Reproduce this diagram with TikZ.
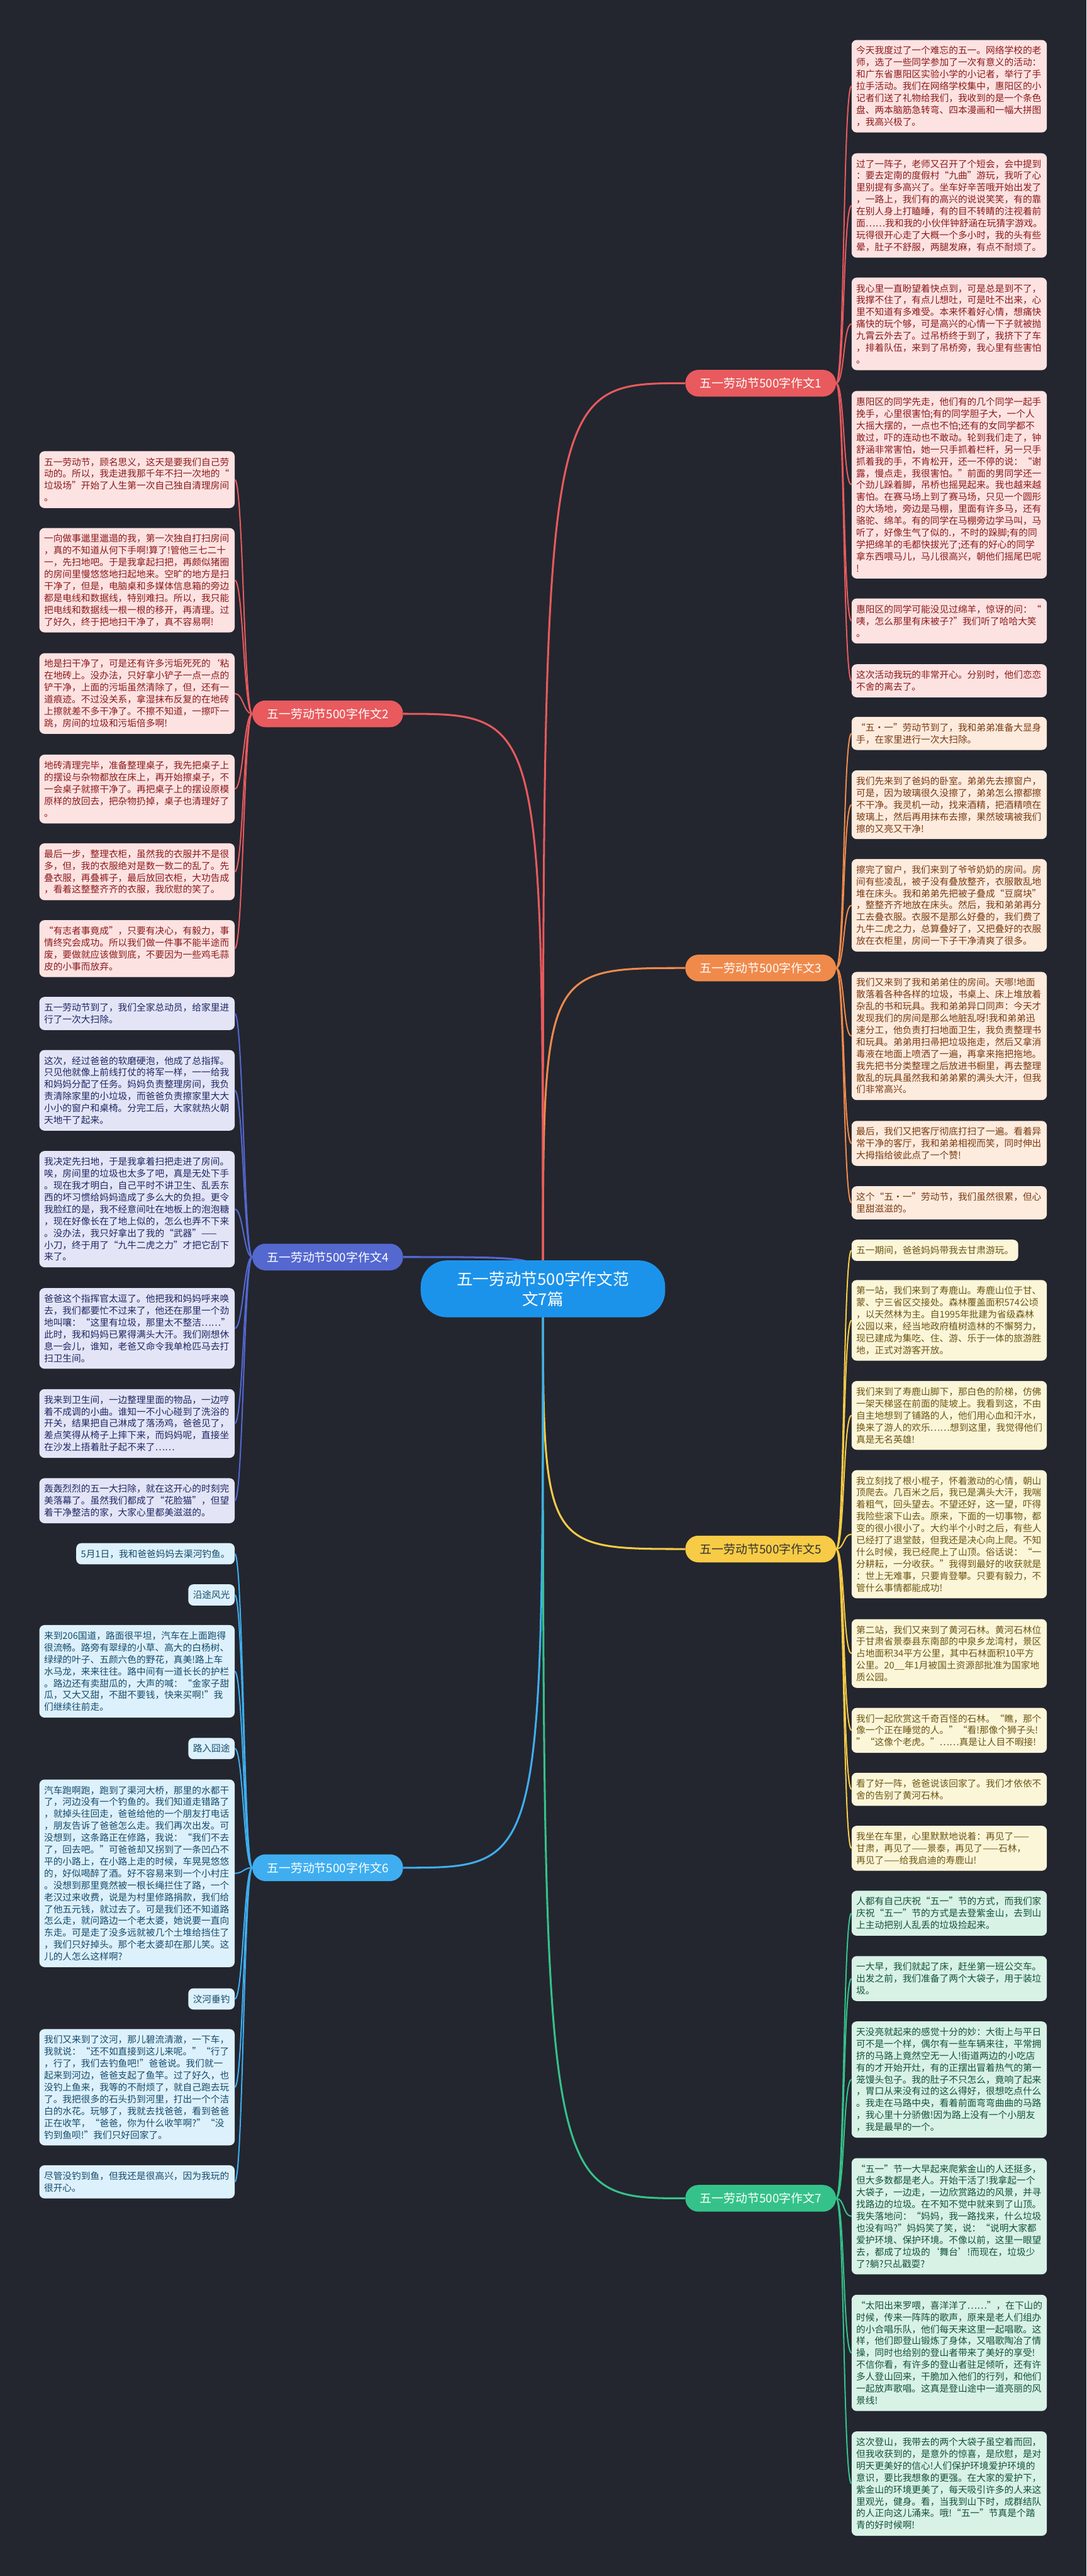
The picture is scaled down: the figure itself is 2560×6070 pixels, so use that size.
\documentclass[tikz,border=0pt]{standalone}
\usepackage{fontspec}
\setmainfont{Noto Sans CJK SC}
\definecolor{bg}{HTML}{23262F}
\definecolor{cred}{HTML}{E85A5D}
\definecolor{lred}{HTML}{FDE2E2}
\definecolor{tred}{HTML}{8B1A1A}
\definecolor{corange}{HTML}{F08A4B}
\definecolor{lorange}{HTML}{FDEBDD}
\definecolor{torange}{HTML}{7A3A12}
\definecolor{cyellow}{HTML}{F7CB46}
\definecolor{lyellow}{HTML}{FCF6D9}
\definecolor{tyellow}{HTML}{6B5512}
\definecolor{cpurple}{HTML}{5468D0}
\definecolor{lpurple}{HTML}{E3E5F7}
\definecolor{tpurple}{HTML}{1F2762}
\definecolor{cblue}{HTML}{3FAEF0}
\definecolor{lblue}{HTML}{DDF1FC}
\definecolor{tblue}{HTML}{154B6B}
\definecolor{cgreen}{HTML}{35C28A}
\definecolor{lgreen}{HTML}{D8F2E6}
\definecolor{tgreen}{HTML}{13513A}
\definecolor{ccenter}{HTML}{1C93EB}
\begin{document}
\begin{tikzpicture}[x=1pt,y=-1pt,
  leaf/.style={rounded corners=12pt, inner xsep=11pt, inner ysep=0pt, align=left, font=\fontsize{21.8}{28}\selectfont},
  full/.style={text width=438pt},
  rl/.style={leaf, anchor=north west},
  ll/.style={leaf, anchor=north east},
  h1/.style={minimum height=50pt}, h2/.style={minimum height=78pt}, h3/.style={minimum height=106pt},
  h4/.style={minimum height=134pt}, h5/.style={minimum height=162pt}, h6/.style={minimum height=190pt},
  h7/.style={minimum height=218pt}, h8/.style={minimum height=246pt}, h9/.style={minimum height=274pt},
  h10/.style={minimum height=302pt}, h15/.style={minimum height=442pt},
  sred/.style={fill=lred, text=tred}, sorange/.style={fill=lorange, text=torange},
  syellow/.style={fill=lyellow, text=tyellow}, spurple/.style={fill=lpurple, text=tpurple},
  sblue/.style={fill=lblue, text=tblue}, sgreen/.style={fill=lgreen, text=tgreen},
  branch/.style={rounded corners=31pt, minimum width=355pt, minimum height=63pt, inner sep=0pt, text=white, font=\fontsize{28}{32}\selectfont},
  lk/.style={line width=3pt},
  mk/.style={line width=4.5pt}
]
\useasboundingbox (0,0) rectangle (2560,6070);
\fill[bg] (0,0) rectangle (2560,6070);

% ---------- right leaves: branch 1 ----------
\node[rl,full,h7,sred] (r1a) at (2006,94) {今天我度过了一个难忘的五一。网络学校的老\\师，选了一些同学参加了一次有意义的活动：\\和广东省惠阳区实验小学的小记者，举行了手\\拉手活动。我们在网络学校集中，惠阳区的小\\记者们送了礼物给我们，我收到的是一个条色\\盘、两本脑筋急转弯、四本漫画和一幅大拼图\\，我高兴极了。};
\node[rl,full,h8,sred] (r1b) at (2006,361) {过了一阵子，老师又召开了个短会，会中提到\\：要去定南的度假村“九曲”游玩，我听了心\\里别提有多高兴了。坐车好辛苦哦开始出发了\\，一路上，我们有的高兴的说说笑笑，有的靠\\在别人身上打瞌睡，有的目不转睛的注视着前\\面……我和我的小伙伴钟舒涵在玩猜字游戏。\\玩得很开心走了大概一个多小时，我的头有些\\晕，肚子不舒服，两腿发麻，有点不耐烦了。};
\node[rl,full,h7,sred] (r1c) at (2006,654) {我心里一直盼望着快点到，可是总是到不了，\\我撑不住了，有点儿想吐，可是吐不出来，心\\里不知道有多难受。本来怀着好心情，想痛快\\痛快的玩个够，可是高兴的心情一下子就被抛\\九霄云外去了。过吊桥终于到了，我挤下了车\\，排着队伍，来到了吊桥旁，我心里有些害怕\\。};
\node[rl,full,h15,sred] (r1d) at (2006,921) {惠阳区的同学先走，他们有的几个同学一起手\\挽手，心里很害怕;有的同学胆子大，一个人\\大摇大摆的，一点也不怕;还有的女同学都不\\敢过，吓的连动也不敢动。轮到我们走了，钟\\舒涵非常害怕，她一只手抓着栏杆，另一只手\\抓着我的手，不肯松开，还一不停的说：“谢\\露，慢点走，我很害怕。”前面的男同学还一\\个劲儿跺着脚，吊桥也摇晃起来。我也越来越\\害怕。在赛马场上到了赛马场，只见一个圆形\\的大场地，旁边是马棚，里面有许多马，还有\\骆驼、绵羊。有的同学在马棚旁边学马叫，马\\听了，好像生气了似的.，不时的跺脚;有的同\\学把绵羊的毛都快拔光了;还有的好心的同学\\拿东西喂马儿，马儿很高兴，朝他们摇尾巴呢\\!};
\node[rl,full,h3,sred] (r1e) at (2006,1410) {惠阳区的同学可能没见过绵羊，惊讶的问：“\\咦，怎么那里有床被子?”我们听了哈哈大笑\\。};
\node[rl,full,h2,sred] (r1f) at (2006,1565) {这次活动我玩的非常开心。分别时，他们恋恋\\不舍的离去了。};

% ---------- branch 3 ----------
\node[rl,full,h2,sorange] (r3a) at (2006,1689) {“五·一”劳动节到了，我和弟弟准备大显身\\手，在家里进行一次大扫除。};
\node[rl,full,h5,sorange] (r3b) at (2006,1815) {我们先来到了爸妈的卧室。弟弟先去擦窗户，\\可是，因为玻璃很久没擦了，弟弟怎么擦都擦\\不干净。我灵机一动，找来酒精，把酒精喷在\\玻璃上，然后再用抹布去擦，果然玻璃被我们\\擦的又亮又干净!};
\node[rl,full,h7,sorange] (r3c) at (2006,2024) {擦完了窗户，我们来到了爷爷奶奶的房间。房\\间有些凌乱，被子没有叠放整齐，衣服散乱地\\堆在床头。我和弟弟先把被子叠成“豆腐块”\\，整整齐齐地放在床头。然后，我和弟弟再分\\工去叠衣服。衣服不是那么好叠的，我们费了\\九牛二虎之力，总算叠好了，又把叠好的衣服\\放在衣柜里，房间一下子干净清爽了很多。};
\node[rl,full,h10,sorange] (r3d) at (2006,2290) {我们又来到了我和弟弟住的房间。天哪!地面\\散落着各种各样的垃圾，书桌上、床上堆放着\\杂乱的书和玩具。我和弟弟异口同声：今天才\\发现我们的房间是那么地脏乱呀!我和弟弟迅\\速分工，他负责打扫地面卫生，我负责整理书\\和玩具。弟弟用扫帚把垃圾拖走，然后又拿消\\毒液在地面上喷洒了一遍，再拿来拖把拖地。\\我先把书分类整理之后放进书橱里，再去整理\\散乱的玩具虽然我和弟弟累的满头大汗，但我\\们非常高兴。};
\node[rl,full,h3,sorange] (r3e) at (2006,2641) {最后，我们又把客厅彻底打扫了一遍。看着异\\常干净的客厅，我和弟弟相视而笑，同时伸出\\大拇指给彼此点了一个赞!};
\node[rl,full,h2,sorange] (r3f) at (2006,2795) {这个“五·一”劳动节，我们虽然很累，但心\\里甜滋滋的。};

% ---------- branch 5 ----------
\node[rl,h1,syellow] (r5a) at (2006,2921) {五一期间，爸爸妈妈带我去甘肃游玩。};
\node[rl,full,h6,syellow] (r5b) at (2006,3016) {第一站，我们来到了寿鹿山。寿鹿山位于甘、\\蒙、宁三省区交接处。森林覆盖面积574公顷\\，以天然林为主。自1995年批建为省级森林\\公园以来，经当地政府植树造林的不懈努力，\\现已建成为集吃、住、游、乐于一体的旅游胜\\地，正式对游客开放。};
\node[rl,full,h5,syellow] (r5c) at (2006,3254) {我们来到了寿鹿山脚下，那白色的阶梯，仿佛\\一架天梯竖在前面的陡坡上。我看到这，不由\\自主地想到了铺路的人，他们用心血和汗水，\\换来了游人的欢乐……想到这里，我觉得他们\\真是无名英雄!};
\node[rl,full,h10,syellow] (r5d) at (2006,3464) {我立刻找了根小棍子，怀着激动的心情，朝山\\顶爬去。几百米之后，我已是满头大汗，我喘\\着粗气，回头望去。不望还好，这一望，吓得\\我险些滚下山去。原来，下面的一切事物，都\\变的很小很小了。大约半个小时之后，有些人\\已经打了退堂鼓，但我还是决心向上爬。不知\\什么时候，我已经爬上了山顶。俗话说：“一\\分耕耘，一分收获。”我得到最好的收获就是\\：世上无难事，只要肯登攀。只要有毅力，不\\管什么事情都能成功!};
\node[rl,full,h5,syellow] (r5e) at (2006,3815) {第二站，我们又来到了黄河石林。黄河石林位\\于甘肃省景泰县东南部的中泉乡龙湾村，景区\\占地面积34平方公里，其中石林面积10平方\\公里。20\_\_年1月被国土资源部批准为国家地\\质公园。};
\node[rl,full,h3,syellow] (r5f) at (2006,4024) {我们一起欣赏这千奇百怪的石林。“瞧，那个\\像一个正在睡觉的人。”“看!那像个狮子头!\\”“这像个老虎。”……真是让人目不暇接!};
\node[rl,full,h2,syellow] (r5g) at (2006,4177) {看了好一阵，爸爸说该回家了。我们才依依不\\舍的告别了黄河石林。};
\node[rl,full,h3,syellow] (r5h) at (2006,4302) {我坐在车里，心里默默地说着：再见了——\\甘肃，再见了——景泰，再见了——石林，\\再见了——给我启迪的寿鹿山!};

% ---------- branch 7 ----------
\node[rl,full,h3,sgreen] (r7a) at (2006,4455) {人都有自己庆祝“五一”节的方式，而我们家\\庆祝“五一”节的方式是去登紫金山，去到山\\上主动把别人乱丢的垃圾捡起来。};
\node[rl,full,h3,sgreen] (r7b) at (2006,4609) {一大早，我们就起了床，赶坐第一班公交车。\\出发之前，我们准备了两个大袋子，用于装垃\\圾。};
\node[rl,full,h9,sgreen] (r7c) at (2006,4763) {天没亮就起来的感觉十分的妙：大街上与平日\\可不是一个样，偶尔有一些车辆来往，平常拥\\挤的马路上竟然空无一人!街道两边的小吃店\\有的才开始开灶，有的正摆出冒着热气的第一\\笼馒头包子。我的肚子不只怎么，竟响了起来\\，胃口从来没有过的这么得好，很想吃点什么\\。我走在马路中央，看着前面弯弯曲曲的马路\\，我心里十分骄傲!因为路上没有一个小朋友\\，我是最早的一个。};
\node[rl,full,h9,sgreen] (r7d) at (2006,5085) {“五一”节一大早起来爬紫金山的人还挺多，\\但大多数都是老人。开始干活了!我拿起一个\\大袋子，一边走，一边欣赏路边的风景，并寻\\找路边的垃圾。在不知不觉中就来到了山顶。\\我失落地问：“妈妈，我一路找来，什么垃圾\\也没有吗?”妈妈笑了笑，说：“说明大家都\\爱护环境、保护环境。不像以前，这里一眼望\\去，都成了垃圾的‘舞台’!而现在，垃圾少\\了?躺?只乩戳耍?};
\node[rl,full,h9,sgreen] (r7e) at (2006,5407) {“太阳出来罗喂，喜洋洋了……”，在下山的\\时候，传来一阵阵的歌声，原来是老人们组办\\的小合唱乐队，他们每天来这里一起唱歌。这\\样，他们即登山锻炼了身体，又唱歌陶冶了情\\操，同时也给别的登山者带来了美好的享受!\\不信你看，有许多的登山者驻足倾听，还有许\\多人登山回来，干脆加入他们的行列，和他们\\一起放声歌唱。这真是登山途中一道亮丽的风\\景线!};
\node[rl,full,h8,sgreen] (r7f) at (2006,5729) {这次登山，我带去的两个大袋子虽空着而回，\\但我收获到的，是意外的惊喜，是欣慰，是对\\明天更美好的信心!人们保护环境爱护环境的\\意识，要比我想象的更强。在大家的爱护下，\\紫金山的环境更美了，每天吸引许多的人来这\\里观光，健身。看，当我到山下时，成群结队\\的人正向这儿涌来。哦!“五一”节真是个踏\\青的好时候啊!};

% ---------- left leaves: branch 2 ----------
\node[ll,full,h4,sred] (l2a) at (553,1063) {五一劳动节，顾名思义，这天是要我们自己劳\\动的。所以，我走进我那千年不扫一次地的“\\垃圾场”开始了人生第一次自己独自清理房间\\。};
\node[ll,full,h8,sred] (l2b) at (553,1244) {一向做事邋里邋遢的我，第一次独自打扫房间\\，真的不知道从何下手啊!算了!管他三七二十\\一，先扫地吧。于是我拿起扫把，再颇似猪圈\\的房间里慢悠悠地扫起地来。空旷的地方是扫\\干净了，但是，电脑桌和多媒体信息箱的旁边\\都是电线和数据线，特别难扫。所以，我只能\\把电线和数据线一根一根的移开，再清理。过\\了好久，终于把地扫干净了，真不容易啊!};
\node[ll,full,h6,sred] (l2c) at (553,1539) {地是扫干净了，可是还有许多污垢死死的{\char"60}粘\\在地砖上。没办法，只好拿小铲子一点一点的\\铲干净，上面的污垢虽然清除了，但，还有一\\道痕迹。不过没关系，拿湿抹布反复的在地砖\\上擦就差不多干净了。不擦不知道，一擦吓一\\跳，房间的垃圾和污垢倍多啊!};
\node[ll,full,h5,sred] (l2d) at (553,1778) {地砖清理完毕，准备整理桌子，我先把桌子上\\的摆设与杂物都放在床上，再开始擦桌子，不\\一会桌子就擦干净了。再把桌子上的摆设原模\\原样的放回去，把杂物扔掉，桌子也清理好了\\。};
\node[ll,full,h4,sred] (l2e) at (553,1987) {最后一步，整理衣柜，虽然我的衣服并不是很\\多，但，我的衣服绝对是数一数二的乱了。先\\叠衣服，再叠裤子，最后放回衣柜，大功告成\\，看着这整整齐齐的衣服，我欣慰的笑了。};
\node[ll,full,h4,sred] (l2f) at (553,2168) {“有志者事竟成”，只要有决心，有毅力，事\\情终究会成功。所以我们做一件事不能半途而\\废，要做就应该做到底，不要因为一些鸡毛蒜\\皮的小事而放弃。};

% ---------- branch 4 ----------
\node[ll,full,h2,spurple] (l4a) at (553,2349) {五一劳动节到了，我们全家总动员，给家里进\\行了一次大扫除。};
\node[ll,full,h6,spurple] (l4b) at (553,2474) {这次，经过爸爸的软磨硬泡，他成了总指挥。\\只见他就像上前线打仗的将军一样，一一给我\\和妈妈分配了任务。妈妈负责整理房间，我负\\责清除家里的小垃圾，而爸爸负责擦家里大大\\小小的窗户和桌椅。分完工后，大家就热火朝\\天地干了起来。};
\node[ll,full,h9,spurple] (l4c) at (553,2712) {我决定先扫地，于是我拿着扫把走进了房间。\\唉，房间里的垃圾也太多了吧，真是无处下手\\。现在我才明白，自己平时不讲卫生、乱丢东\\西的坏习惯给妈妈造成了多么大的负担。更令\\我脸红的是，我不经意间吐在地板上的泡泡糖\\，现在好像长在了地上似的，怎么也弄不下来\\。没办法，我只好拿出了我的“武器”——\\小刀，终于用了“九牛二虎之力”才把它刮下\\来了。};
\node[ll,full,h6,spurple] (l4d) at (553,3035) {爸爸这个指挥官太逗了。他把我和妈妈呼来唤\\去，我们都要忙不过来了，他还在那里一个劲\\地叫嚷：“这里有垃圾，那里太不整洁……”\\此时，我和妈妈已累得满头大汗。我们刚想休\\息一会儿，谁知，老爸又命令我单枪匹马去打\\扫卫生间。};
\node[ll,full,h5,spurple] (l4e) at (553,3273) {我来到卫生间，一边整理里面的物品，一边哼\\着不成调的小曲。谁知一不小心碰到了洗浴的\\开关，结果把自己淋成了落汤鸡，爸爸见了，\\差点笑得从椅子上摔下来，而妈妈呢，直接坐\\在沙发上捂着肚子起不来了……};
\node[ll,full,h3,spurple] (l4f) at (553,3483) {轰轰烈烈的五一大扫除，就在这开心的时刻完\\美落幕了。虽然我们都成了“花脸猫”，但望\\着干净整洁的家，大家心里都美滋滋的。};

% ---------- branch 6 ----------
\node[ll,h1,sblue] (l6a) at (553,3636) {5月1日，我和爸爸妈妈去渠河钓鱼。};
\node[ll,h1,sblue] (l6b) at (553,3733) {沿途风光};
\node[ll,full,h7,sblue] (l6c) at (553,3829) {来到206国道，路面很平坦，汽车在上面跑得\\很流畅。路旁有翠绿的小草、高大的白杨树、\\绿绿的叶子、五颜六色的野花，真美!路上车\\水马龙，来来往往。路中间有一道长长的护栏\\。路边还有卖甜瓜的，大声的喊：“金家子甜\\瓜，又大又甜，不甜不要钱，快来买啊!”我\\们继续往前走。};
\node[ll,h1,sblue] (l6d) at (553,4095) {路入囧途};
\node[ll,full,h15,sblue] (l6e) at (553,4193) {汽车跑啊跑，跑到了渠河大桥，那里的水都干\\了，河边没有一个钓鱼的。我们知道走错路了\\，就掉头往回走，爸爸给他的一个朋友打电话\\，朋友告诉了爸爸怎么走。我们再次出发。可\\没想到，这条路正在修路，我说：“我们不去\\了，回去吧。”可爸爸却又拐到了一条凹凸不\\平的小路上，在小路上走的时候，车晃晃悠悠\\的，好似喝醉了酒。好不容易来到一个小村庄\\。没想到那里竟然被一根长绳拦住了路，一个\\老汉过来收费，说是为村里修路捐款，我们给\\了他五元钱，就过去了。可是我们还不知道路\\怎么走，就问路边一个老太婆，她说要一直向\\东走。可是走了没多远就被几个土堆给挡住了\\，我们只好掉头。那个老太婆却在那儿笑。这\\儿的人怎么这样啊?};
\node[ll,h1,sblue] (l6f) at (553,4685) {汶河垂钓};
\node[ll,full,h9,sblue] (l6g) at (553,4781) {我们又来到了汶河，那儿碧流清澈，一下车，\\我就说：“还不如直接到这儿来呢。”“行了\\，行了，我们去钓鱼吧!”爸爸说。我们就一\\起来到河边，爸爸支起了鱼竿。过了好久，也\\没钓上鱼来，我等的不耐烦了，就自己跑去玩\\了。我把很多的石头扔到河里，打出一个个洁\\白的水花。玩够了，我就去找爸爸，看到爸爸\\正在收竿，“爸爸，你为什么收竿啊?”“没\\钓到鱼呗!”我们只好回家了。};
\node[ll,full,h2,sblue] (l6h) at (553,5102) {尽管没钓到鱼，但我还是很高兴，因为我玩的\\很开心。};

% ---------- branch nodes ----------
\node[branch,fill=cred] (b1) at (1792,903) {五一劳动节500字作文1};
\node[branch,fill=cred] (b2) at (772,1682) {五一劳动节500字作文2};
\node[branch,fill=corange] (b3) at (1792,2281) {五一劳动节500字作文3};
\node[branch,fill=cpurple] (b4) at (772,2962) {五一劳动节500字作文4};
\node[branch,fill=cyellow,text=black!80] (b5) at (1792,3650) {五一劳动节500字作文5};
\node[branch,fill=cblue] (b6) at (772,4401) {五一劳动节500字作文6};
\node[branch,fill=cgreen] (b7) at (1792,5180) {五一劳动节500字作文7};

\coordinate (c0) at (1279,3037);

% ---------- leaf connectors ----------
\foreach \n in {r1a,r1b,r1c,r1d,r1e,r1f}
  \draw[lk,cred] (b1.east) .. controls +(20,0) and +(-20,0) .. (\n.west);
\foreach \n in {r3a,r3b,r3c,r3d,r3e,r3f}
  \draw[lk,corange] (b3.east) .. controls +(20,0) and +(-20,0) .. (\n.west);
\foreach \n in {r5a,r5b,r5c,r5d,r5e,r5f,r5g,r5h}
  \draw[lk,cyellow] (b5.east) .. controls +(20,0) and +(-20,0) .. (\n.west);
\foreach \n in {r7a,r7b,r7c,r7d,r7e,r7f}
  \draw[lk,cgreen] (b7.east) .. controls +(20,0) and +(-20,0) .. (\n.west);
\foreach \n in {l2a,l2b,l2c,l2d,l2e,l2f}
  \draw[lk,cred] (b2.west) .. controls +(-20,0) and +(20,0) .. (\n.east);
\foreach \n in {l4a,l4b,l4c,l4d,l4e,l4f}
  \draw[lk,cpurple] (b4.west) .. controls +(-20,0) and +(20,0) .. (\n.east);
\foreach \n in {l6a,l6b,l6c,l6d,l6e,l6f,l6g,l6h}
  \draw[lk,cblue] (b6.west) .. controls +(-20,0) and +(20,0) .. (\n.east);

% ---------- main connectors ----------
\draw[mk,cred] (c0) .. controls (1279,903) and (1279,903) .. (b1.west);
\draw[mk,corange] (c0) .. controls (1279,2281) and (1279,2281) .. (b3.west);
\draw[mk,cyellow] (c0) .. controls (1279,3650) and (1279,3650) .. (b5.west);
\draw[mk,cgreen] (c0) .. controls (1279,5180) and (1279,5180) .. (b7.west);
\draw[mk,cred] (c0) .. controls (1279,1682) and (1279,1682) .. (b2.east);
\draw[mk,cpurple] (c0) .. controls (1279,2962) and (1279,2962) .. (b4.east);
\draw[mk,cblue] (c0) .. controls (1279,4401) and (1279,4401) .. (b6.east);

\node[fill=ccenter, text=white, rounded corners=62pt, minimum width=576pt, minimum height=134pt, inner sep=0pt, align=center, text width=470pt, font=\fontsize{38}{47}\selectfont] (ctr) at (c0) {五一劳动节500字作文范\\文7篇};
\end{tikzpicture}
\end{document}
